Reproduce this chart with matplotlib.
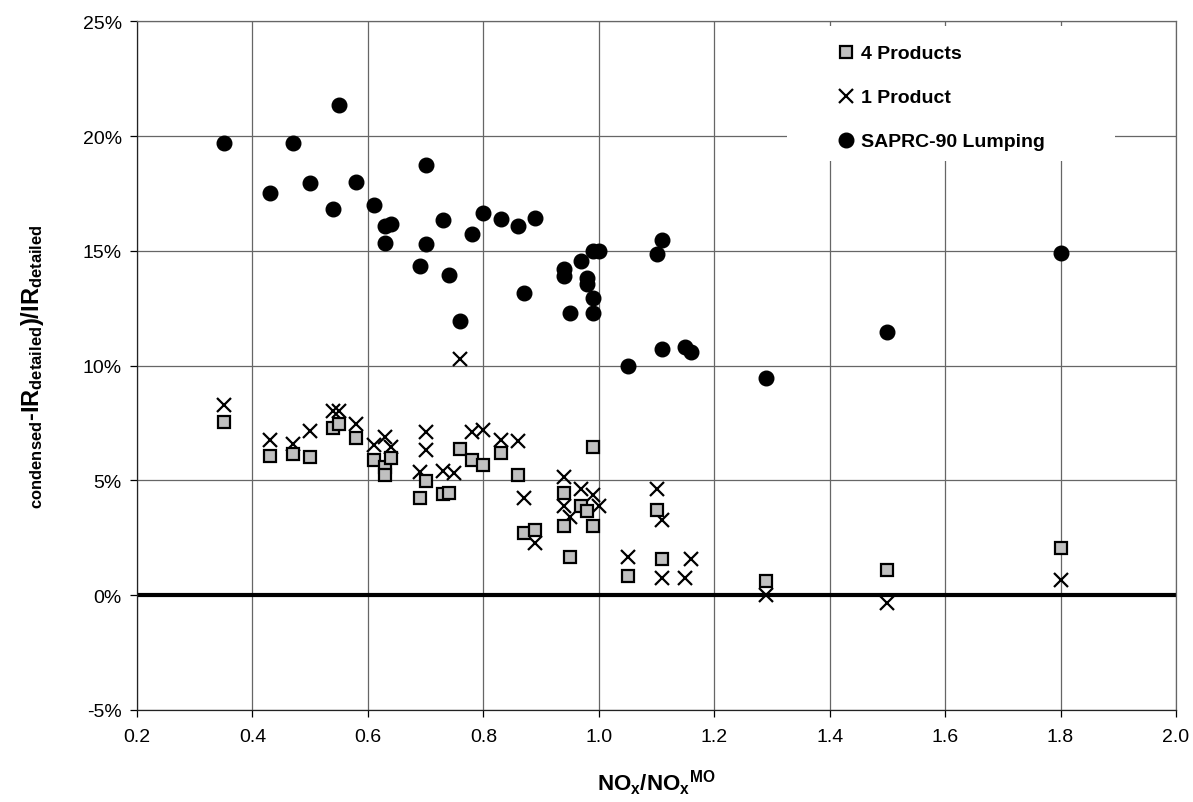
import matplotlib
matplotlib.use("Agg")
import matplotlib.pyplot as plt
from matplotlib.patches import Rectangle
from matplotlib.ticker import FuncFormatter, MultipleLocator

plt.rcParams['font.family'] = ['Liberation Sans', 'DejaVu Sans']
plt.rcParams['mathtext.fontset'] = 'custom'
plt.rcParams['mathtext.rm'] = 'Liberation Sans'
plt.rcParams['mathtext.bf'] = 'Liberation Sans:bold'
plt.rcParams['mathtext.it'] = 'Liberation Sans:italic'

# ---------------- data ----------------
sap_x = [0.35, 0.43, 0.47, 0.50, 0.54, 0.55, 0.58, 0.61, 0.63, 0.63, 0.64, 0.69, 0.70, 0.70,
         0.73, 0.74, 0.76, 0.78, 0.80, 0.83, 0.86, 0.87, 0.89, 0.94, 0.94, 0.95, 0.97, 0.98,
         0.98, 0.99, 0.99, 0.99, 1.00, 1.05, 1.10, 1.11, 1.11, 1.15, 1.16, 1.29, 1.50, 1.80]
sap_y = [19.7, 17.5, 19.7, 17.95, 16.8, 21.35, 18.0, 17.0, 16.1, 15.35, 16.15, 14.35, 18.75, 15.3,
         16.35, 13.95, 11.95, 15.75, 16.65, 16.4, 16.1, 13.15, 16.45, 14.2, 13.9, 12.3, 14.55, 13.8,
         13.55, 12.95, 12.3, 15.0, 15.0, 10.0, 14.85, 15.45, 10.7, 10.8, 10.6, 9.45, 11.45, 14.9]

p4_x = [0.35, 0.43, 0.47, 0.50, 0.54, 0.55, 0.58, 0.61, 0.63, 0.63, 0.64, 0.69, 0.70, 0.73,
        0.74, 0.76, 0.78, 0.80, 0.83, 0.86, 0.87, 0.89, 0.94, 0.94, 0.95, 0.97, 0.98, 0.99,
        0.99, 1.05, 1.10, 1.11, 1.29, 1.50, 1.80]
p4_y = [7.55, 6.05, 6.15, 6.0, 7.3, 7.45, 6.85, 5.9, 5.6, 5.25, 5.95, 4.25, 4.95, 4.4,
        4.45, 6.35, 5.9, 5.65, 6.2, 5.25, 2.7, 2.85, 4.45, 3.0, 1.65, 3.9, 3.65, 3.0,
        6.45, 0.85, 3.7, 1.55, 0.6, 1.1, 2.05]

p1_x = [0.35, 0.43, 0.47, 0.50, 0.54, 0.55, 0.58, 0.61, 0.63, 0.64, 0.69, 0.70, 0.70, 0.73,
        0.75, 0.76, 0.78, 0.80, 0.83, 0.86, 0.87, 0.89, 0.94, 0.94, 0.95, 0.97, 0.99, 1.00,
        1.05, 1.10, 1.11, 1.11, 1.15, 1.16, 1.29, 1.50, 1.80]
p1_y = [8.3, 6.75, 6.6, 7.15, 8.0, 8.0, 7.45, 6.55, 6.9, 6.45, 5.35, 7.1, 6.3, 5.4,
        5.3, 10.3, 7.1, 7.2, 6.75, 6.7, 4.25, 2.25, 5.15, 3.9, 3.4, 4.6, 4.35, 3.9,
        1.65, 4.6, 3.25, 0.75, 0.75, 1.55, 0.0, -0.35, 0.65]

labels = ["4 Products", "1 Product", "SAPRC-90 Lumping"]

# ---------------- figure ----------------
W, H = 1193, 803
fig = plt.figure(figsize=(W / 100, H / 100), dpi=100)
left, right, top, bottom = 137, 1176, 22.3, 710.8
ax = fig.add_axes([left / W, 1 - bottom / H, (right - left) / W, (bottom - top) / H])

ax.set_xlim(0.2, 2.0)
ax.set_ylim(-5, 25)
ax.xaxis.set_major_locator(MultipleLocator(0.2))
ax.yaxis.set_major_locator(MultipleLocator(5))
ax.xaxis.set_major_formatter(FuncFormatter(lambda v, p: f"{v:.1f}"))
ax.yaxis.set_major_formatter(FuncFormatter(lambda v, p: f"{v:.0f}%"))

ax.grid(True, color='#666666', linewidth=0.9, zorder=0)
ax.set_axisbelow(True)
for s in ['top', 'right']:
    ax.spines[s].set_color('#666666')
    ax.spines[s].set_linewidth(0.9)
for s in ['left', 'bottom']:
    ax.spines[s].set_color('#222222')
    ax.spines[s].set_linewidth(0.9)

ax.tick_params(axis='both', direction='out', length=5, width=0.9, labelsize=14, colors='black')
ax.tick_params(axis='x', pad=8)
ax.tick_params(axis='y', pad=6)

ax.axhline(0, color='black', linewidth=3, zorder=2)

# legend background box
ax.add_patch(Rectangle((0.6255, 0.797), 0.316, 0.196, transform=ax.transAxes,
                       facecolor='white', edgecolor='none', zorder=1.5))

ax.plot(p1_x, p1_y, linestyle='none', marker='x', markersize=10, markeredgewidth=1.6,
        color='black', label=labels[1], zorder=3)
ax.plot(p4_x, p4_y, linestyle='none', marker='s', markersize=9, markeredgewidth=1.6,
        markerfacecolor='#c0c0c0', markeredgecolor='black', label=labels[0], zorder=4)
ax.plot(sap_x, sap_y, linestyle='none', marker='o', markersize=10.5,
        color='black', label=labels[2], zorder=5)

h, l = ax.get_legend_handles_labels()
order = [1, 0, 2]
leg = ax.legend([h[i] for i in order], [l[i] for i in order],
                loc='upper left', bbox_to_anchor=(0.673, 0.966), frameon=False,
                borderpad=0, borderaxespad=0, handlelength=1.0, handletextpad=0.25,
                labelspacing=1.36, prop={'weight': 'bold', 'size': 14})
leg.set_zorder(6)

ax.set_xlabel(r"$\mathbf{NO_x/NO_x{}^{MO}}$", fontsize=16, labelpad=16)
ax.set_ylabel(r"${}_{\mathbf{condensed}}\mathbf{‐IR}_{\mathbf{detailed}}\mathbf{)/IR}_{\mathbf{detailed}}$",
              fontsize=17, labelpad=26)

fig.savefig("out.png", dpi=100)
